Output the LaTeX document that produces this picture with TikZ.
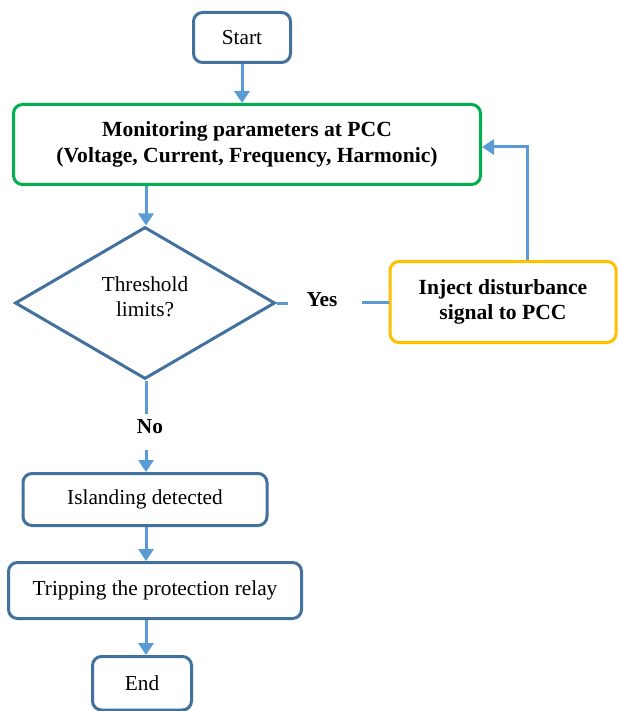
\documentclass[tikz,border=0pt]{standalone}
\usepackage{fontspec}
\setmainfont{Liberation Serif}
\usetikzlibrary{arrows.meta,shapes.geometric}
\definecolor{boxblue}{HTML}{41719C}
\definecolor{arrowblue}{HTML}{5B9BD5}
\definecolor{okgreen}{HTML}{00B050}
\definecolor{warnyellow}{HTML}{FFC000}
\tikzset{
  box/.style={draw=boxblue, line width=3pt, rounded corners=9pt, fill=white,
    inner sep=0pt, align=center, font=\fontsize{21.3}{25}\selectfont},
  decision/.style={draw=boxblue, line width=3pt, diamond, fill=white, inner sep=0pt},
  plain/.style={inner sep=0pt, align=center, font=\fontsize{21.3}{25}\selectfont},
  flow/.style={draw=arrowblue, line width=3pt, -{Triangle[width=15pt,length=12pt]}},
  link/.style={draw=arrowblue, line width=3pt},
  lbl/.style={font=\fontsize{21.3}{25}\selectfont\bfseries, inner sep=0pt}
}
\begin{document}
\begin{tikzpicture}[x=1pt,y=-1pt]
\useasboundingbox (0,0) rectangle (618,711);
\clip (0,0) rectangle (618,711);

% process steps
\node[box, minimum width=97pt, minimum height=50pt] (start) at (242,37.5) {Start};
\node[box, draw=okgreen, minimum width=467pt, minimum height=80pt,
      font=\fontsize{21.6}{26}\selectfont\bfseries] (mon) at (247,144.5)
  {Monitoring parameters at PCC\\(Voltage, Current, Frequency, Harmonic)};
\node[decision, minimum width=260pt, minimum height=152pt] (dia) at (145,303) {};
\node[plain] (diatext) at (145,297) {Threshold\\limits?};
\node[box, draw=warnyellow, minimum width=226pt, minimum height=81pt,
      font=\fontsize{21.6}{25}\selectfont\bfseries] (inj) at (503,302)
  {Inject disturbance\\signal to PCC};
\node[box, minimum width=244pt, minimum height=52pt] (isl) at (145,499.5) {Islanding detected};
\node[box, minimum width=293pt, minimum height=56pt] (trip) at (155,590.5) {Tripping the protection relay};
\node[box, minimum width=99pt, minimum height=53.5pt] (end) at (142,683.25) {End};

% branch labels
\node[lbl] (yes) at (322,300) {Yes};
\node[lbl] (no) at (150,427) {No};

% guide coordinates
\coordinate (spine) at (146,0);
\coordinate (fb) at (527,147);

% connectors
\draw[flow] (start.south) -- (start.south |- mon.north);
\draw[flow] (spine |- mon.south) -- (spine |- dia.north);
\draw[link] (dia.east) -- ++(11,0);
\draw[link] (inj.west) -- ++(-27,0);
\draw[flow] (fb |- inj.north) -- (fb) -- (fb -| mon.east);
\draw[link] (spine |- dia.south) -- ++(0,33);
\draw[flow] (spine |- isl.north) ++(0,-22) -- (spine |- isl.north);
\draw[flow] (spine |- isl.south) -- (spine |- trip.north);
\draw[flow] (spine |- trip.south) -- (spine |- end.north);
\end{tikzpicture}
\end{document}
